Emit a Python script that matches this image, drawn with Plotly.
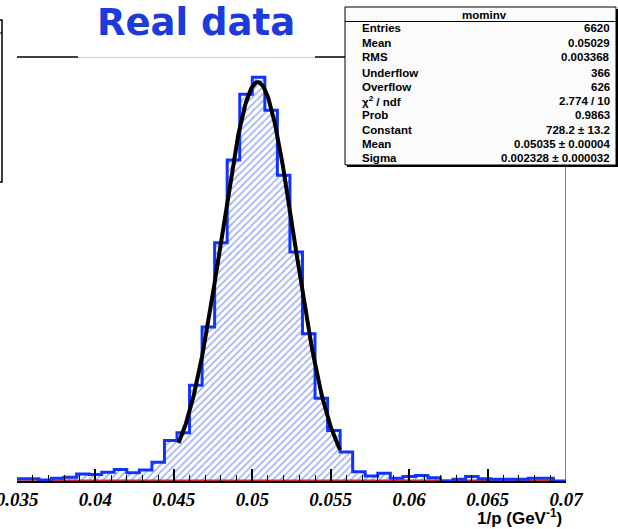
import numpy as np
import plotly.graph_objects as go

# ---------------- data ----------------
bin_start = 0.0348          # left edge of first listed bin
bin_width = 0.0008
counts = [4, 4, 2, 5, 7, 13, 12, 16, 21, 15, 20, 34, 74, 88, 175, 281, 435, 586,
          706, 737, 677, 558, 418, 269, 151, 92, 53, 17, 9, 14, 5, 8, 10, 6, 0,
          3, 8, 4, 3, 3, 3, 5, 5, 0]
red_counts = [0, 0, 0, 1.5, 1.5, 1.5, 1.5, 1.5, 1.5, 1.5, 1.5, 1.5, 1.5, 1.5, 1.5,
              1.5, 1.5, 1.5, 1.5, 1.5, 1.5, 1.5, 1.5, 1.5, 1.5, 1.5, 1.5, 1.5, 1.5,
              1.5, 1.5, 1.5, 1.5, 1.5, 1.5, 1.5, 1.5, 1.5, 1.5, 1.5, 1.5, 1.5, 1.5, 0]
fit_const, fit_mean, fit_sigma = 728.2, 0.05035, 0.002328
fit_range = [0.0453, 0.0556]

tick_vals = [0.035, 0.04, 0.045, 0.05, 0.055, 0.06, 0.065, 0.07]
tick_text = ["0.035", "0.04", "0.045", "0.05", "0.055", "0.06", "0.065", "0.07"]

stats_title = "mominv"
stats_labels = ["Entries", "Mean", "RMS", "Underflow", "Overflow",
                "χ<sup>2</sup> / ndf", "Prob", "Constant", "Mean", "Sigma"]
stats_values = ["6620", "0.05029", "0.003368", "366", "626", "2.774 / 10",
                "0.9863", "728.2 ± 13.2", "0.05035 ± 0.00004", "0.002328 ± 0.000032"]

# ---------------- geometry ----------------
W, H = 618, 529
L, R, T, B = 17, 566, 57, 481
XR = [0.035, 0.07]
YR = [0, 774]

def px(p):
    return (p - L) / (R - L)

def py(p):
    return (B - p) / (B - T)

edges = [bin_start + bin_width * i for i in range(len(counts) + 1)]
yy = counts + [counts[-1]]
ry = red_counts + [red_counts[-1]]

blue = "#1034ff"

fig = go.Figure()
fig.add_trace(go.Scatter(x=edges, y=ry, mode="lines",
                         line=dict(color="#e8231a", width=1.5, shape="hv"),
                         hoverinfo="skip", showlegend=False))
fig.add_trace(go.Scatter(x=edges, y=yy, mode="lines",
                         line=dict(color=blue, width=3, shape="hv"),
                         fill="tozeroy", fillcolor="rgba(0,0,0,0)",
                         fillpattern=dict(shape="/", fgcolor="#3558f0", bgcolor="rgba(255,255,255,0)",
                                          size=5, solidity=0.3),
                         hoverinfo="skip", showlegend=False))

xf = np.linspace(fit_range[0], fit_range[1], 200)
yf = fit_const * np.exp(-0.5 * ((xf - fit_mean) / fit_sigma) ** 2)
fig.add_trace(go.Scatter(x=xf, y=yf, mode="lines", line=dict(color="black", width=4),
                         hoverinfo="skip", showlegend=False))

shapes = []
# frame top line, partly covered by the title box
shapes.append(dict(type="line", xref="paper", yref="paper", x0=px(L), x1=px(78), y0=py(57), y1=py(57),
                   line=dict(color="black", width=1.5)))
shapes.append(dict(type="line", xref="paper", yref="paper", x0=px(78), x1=px(315), y0=py(57.5), y1=py(57.5),
                   line=dict(color="#d2d2d2", width=1)))
shapes.append(dict(type="line", xref="paper", yref="paper", x0=px(315), x1=px(R), y0=py(57), y1=py(57),
                   line=dict(color="black", width=1.5)))
# red right edge
shapes.append(dict(type="line", xref="x", yref="paper", x0=0.07, x1=0.07, y0=0, y1=1,
                   line=dict(color="#d81e10", width=1.5)))
# partially visible box at far left
shapes.append(dict(type="rect", xref="paper", yref="paper", x0=px(-30), x1=px(2), y0=py(182), y1=py(20),
                   line=dict(color="black", width=1.5), fillcolor="white"))
shapes.append(dict(type="line", xref="paper", yref="paper", x0=px(-30), x1=px(2), y0=py(33), y1=py(33),
                   line=dict(color="black", width=1)))
# stats box: shadow then box
shapes.append(dict(type="rect", xref="paper", yref="paper", x0=px(347), x1=px(618), y0=py(167), y1=py(9),
                   line=dict(width=0), fillcolor="black"))
shapes.append(dict(type="rect", xref="paper", yref="paper", x0=px(345), x1=px(616), y0=py(165), y1=py(7),
                   line=dict(color="black", width=1), fillcolor="#fbfbfb"))
shapes.append(dict(type="line", xref="paper", yref="paper", x0=px(345), x1=px(616), y0=py(21.5), y1=py(21.5),
                   line=dict(color="black", width=1)))

ann = []
ann.append(dict(text="Real data", xref="paper", yref="paper", x=px(196), y=py(23),
                xanchor="center", yanchor="middle", showarrow=False,
                font=dict(family="Comic Sans MS, DejaVu Sans", size=37, color="#1b3bdb", weight="bold")))
ann.append(dict(text=stats_title, xref="paper", yref="paper", x=px(484), y=py(14.5),
                xanchor="center", yanchor="middle", showarrow=False,
                font=dict(family="Liberation Sans, Arial", size=11.5, color="black", weight="bold")))
rows_y = [28.3, 42.7, 57.3, 72.7, 87.3, 100.7, 115, 130, 144.3, 158.3]
for lab, val, ypos in zip(stats_labels, stats_values, rows_y):
    ann.append(dict(text=lab, xref="paper", yref="paper", x=px(360), y=py(ypos),
                    xanchor="left", yanchor="middle", showarrow=False,
                    font=dict(family="Liberation Sans, Arial", size=11.5, color="black", weight="bold")))
    ann.append(dict(text=val, xref="paper", yref="paper", x=px(612), y=py(ypos),
                    xanchor="right", yanchor="middle", showarrow=False,
                    font=dict(family="Liberation Sans, Arial", size=11.5, color="black", weight="bold")))
ann.append(dict(text="1/p (GeV<sup>-1</sup>)", xref="paper", yref="paper", x=px(564), y=py(517),
                xanchor="right", yanchor="middle", showarrow=False,
                font=dict(family="Liberation Sans, Arial", size=17, color="black", weight="bold")))

fig.update_layout(
    width=W, height=H,
    margin=dict(l=L, r=W - R, t=T, b=H - B, pad=0, autoexpand=False),
    paper_bgcolor="white", plot_bgcolor="white",
    xaxis=dict(range=XR, showgrid=False, zeroline=False, showline=True, linecolor="black", linewidth=2,
               automargin=False,
               ticks="inside", ticklen=12, tickwidth=1.5, tickcolor="black",
               tickmode="array", tickvals=tick_vals, ticktext=tick_text,
               ticklabeloverflow="allow",
               tickfont=dict(family="Liberation Serif, Times New Roman", size=19, color="black",
                             weight="bold", style="italic"),
               minor=dict(ticks="inside", ticklen=6, tickwidth=1, tickcolor="black", dtick=0.001, tick0=0.035,
                          showgrid=False)),
    yaxis=dict(range=YR, visible=False, showgrid=False, zeroline=False, automargin=False),
    shapes=shapes, annotations=ann, showlegend=False,
)

fig.write_html("out.html", config={"displayModeBar": False},
               post_script="document.body.style.margin='0';document.body.style.overflow='hidden';")
